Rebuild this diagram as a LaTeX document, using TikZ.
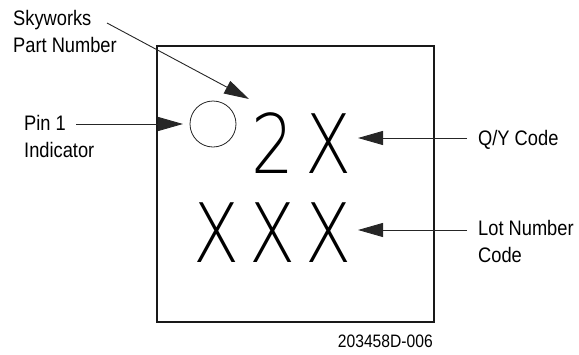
\documentclass[tikz,border=0pt]{standalone}
\usepackage{fontspec}
\setmainfont{Liberation Sans}[FakeStretch=0.87]
\newfontfamily\markfont{DejaVu Sans ExtraLight}[FakeStretch=0.82]
\usetikzlibrary{arrows.meta}
\tikzset{
  lbl/.style={inner sep=0pt, anchor=base west, font=\fontsize{21}{27}\selectfont},
  glyph/.style={inner sep=0pt, anchor=base, font=\markfont\fontsize{82}{82}\selectfont},
  conn/.style={line width=0.9pt, draw=black!85, -{Triangle[length=25pt,width=14pt]}},
  pkg/.style={line width=1.6pt, draw=black!90},
  pin/.style={line width=0.8pt, draw=black!85}
}
\begin{document}
\begin{tikzpicture}[x=1pt,y=-1pt]
\useasboundingbox (0,0) rectangle (579,354);
% package outline
\draw[pkg] (157,46) rectangle (434,322);
\node[pin, circle, minimum size=46pt, inner sep=0pt] (dot) at (213,124) {};
% marking characters
\node[glyph] (m2) at (273,173) {2};
\node[glyph] (mx) at (329,173) {X};
\node[glyph] (l1) at (217,262) {X};
\node[glyph] (l2) at (273,262) {X};
\node[glyph] (l3) at (329,262) {X};
% labels
\node[lbl] (sky1) at (13,25) {Skyworks};
\node[lbl] (sky2) at (13,52) {Part Number};
\node[lbl] (pin1) at (24,130) {Pin 1};
\node[lbl] (pin2) at (24,157) {Indicator};
\node[lbl] (qy) at (478,145) {Q/Y Code};
\node[lbl] (lot1) at (478,235) {Lot Number};
\node[lbl] (lot2) at (478,262) {Code};
\node[inner sep=0pt, anchor=base east, font=\fontsize{18}{22}\selectfont] (dwg) at (433,347) {203458D-006};
% connector ends
\coordinate (skyS) at (107,23);
\coordinate (skyT) at (249,99);
\coordinate (pinS) at (76,124);
\coordinate (pinT) at (183,124);
\coordinate (qyS) at (467,138);
\coordinate (qyT) at (358,138);
\coordinate (lotS) at (467,230);
\coordinate (lotT) at (358,230);
\draw[conn] (skyS) -- (skyT);
\draw[conn] (pinS) -- (pinT);
\draw[conn] (qyS) -- (qyT);
\draw[conn] (lotS) -- (lotT);
\end{tikzpicture}
\end{document}
